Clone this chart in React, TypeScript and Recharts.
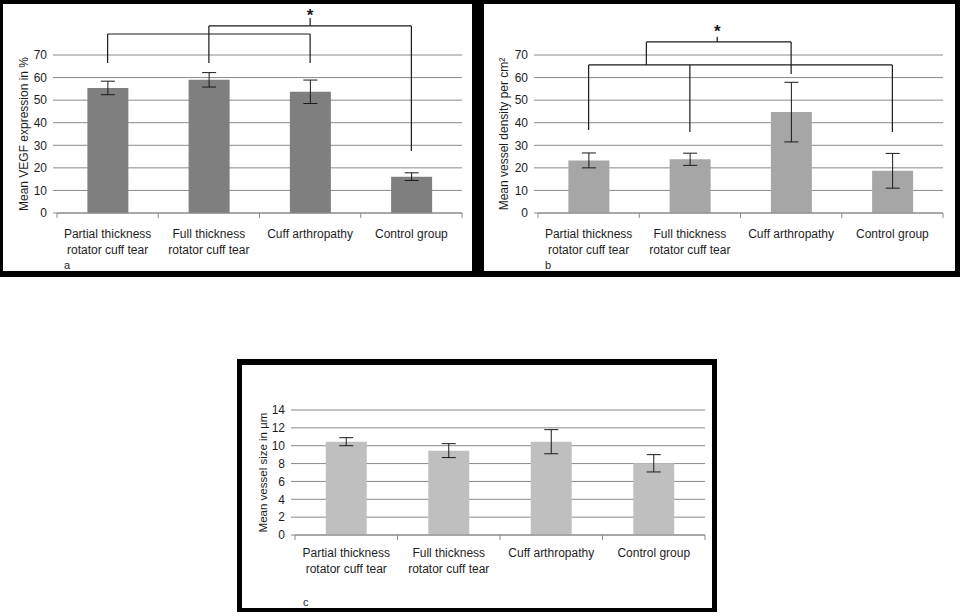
import {
  Bar,
  BarChart,
  CartesianGrid,
  ErrorBar,
  ReferenceDot,
  ReferenceLine,
  XAxis,
  YAxis,
} from "recharts";

const CATEGORIES = [
  "Partial thickness rotator cuff tear",
  "Full thickness rotator cuff tear",
  "Cuff arthropathy",
  "Control group",
];
const CATEGORY_LINES = [
  ["Partial thickness", "rotator cuff tear"],
  ["Full thickness", "rotator cuff tear"],
  ["Cuff arthropathy"],
  ["Control group"],
];

// a: VEGF expression (%)
const VEGF_MEAN = [55.4, 59.0, 53.7, 16.1];
const VEGF_ERR = [3.0, 3.2, 5.2, 1.7];
// b: vessel density (per cm²)
const DENSITY_MEAN = [23.3, 23.8, 44.7, 18.7];
const DENSITY_ERR = [3.3, 2.7, 13.2, 7.7];
// c: vessel size (µm)
const SIZE_MEAN = [10.45, 9.45, 10.45, 8.03];
const SIZE_ERR = [0.45, 0.78, 1.35, 0.97];

const PCT_TICKS = [0, 10, 20, 30, 40, 50, 60, 70];
const SIZE_TICKS = [0, 2, 4, 6, 8, 10, 12, 14];

// significance brackets, [x1, y1, x2, y2] in (category slot, value) units
const VEGF_BRACKETS: number[][] = [
  [0.5, 66.5, 0.5, 79.3],
  [0.5, 79.3, 2.5, 79.3],
  [2.5, 79.3, 2.5, 66.5],
  [1.5, 66.5, 1.5, 82.9],
  [1.5, 82.9, 3.5, 82.9],
  [3.5, 82.9, 3.5, 27.5],
  [2.5, 82.9, 2.5, 86.4],
];
const VEGF_STAR = [2.5, 89.2];

const DENSITY_BRACKETS: number[][] = [
  [0.5, 36.8, 0.5, 65.6],
  [0.5, 65.6, 3.5, 65.6],
  [1.5, 35.9, 1.5, 65.6],
  [3.5, 35.9, 3.5, 65.6],
  [1.07, 65.6, 1.07, 75.8],
  [1.07, 75.8, 2.5, 75.8],
  [2.5, 75.8, 2.5, 61.6],
  [1.77, 75.8, 1.77, 78.1],
];
const DENSITY_STAR = [1.77, 82];

const FONT = '"Liberation Sans", Arial, sans-serif';
const TEXT = "#1e1e1e";
const GRID = "#8a8a8a";
const INK = "#1a1a1a";

function rows(means: number[], errs: number[]) {
  return CATEGORIES.map((name, i) => ({ name, slot: i + 0.5, value: means[i], err: errs[i] }));
}

function CategoryTick(props: any) {
  const { x, y, payload, baseline } = props;
  const idx = CATEGORIES.indexOf(payload.value);
  const lines = CATEGORY_LINES[idx] ?? [payload.value];
  return (
    <text x={x} y={y + baseline} textAnchor="middle" fill={TEXT} fontSize={12} fontFamily={FONT}>
      {lines.map((l, i) => (
        <tspan key={i} x={x} dy={i === 0 ? 0 : 16.5}>
          {l}
        </tspan>
      ))}
    </text>
  );
}

type PanelProps = {
  left: number;
  top: number;
  width: number;
  height: number;
  means: number[];
  errs: number[];
  color: string;
  ticks: number[];
  yLabel: string;
  yLabelSize: number;
  margin: { top: number; right: number; bottom: number; left: number };
  labelOffset: number;
  baseline: number;
  brackets?: number[][];
  star?: number[];
  letter: string;
  letterPos: [number, number];
};

function Panel(p: PanelProps) {
  const data = rows(p.means, p.errs);
  const yMax = p.ticks[p.ticks.length - 1];
  const bounds = CATEGORIES.map((_, i) => i).concat(CATEGORIES.length);
  return (
    <div
      style={{
        position: "absolute",
        left: p.left,
        top: p.top,
        width: p.width,
        height: p.height,
        background: "#fff",
      }}
    >
      <BarChart width={p.width} height={p.height} data={data} margin={p.margin} barCategoryGap="30%">
        <CartesianGrid vertical={false} stroke={GRID} />
        <XAxis
          dataKey="name"
          axisLine={{ stroke: GRID }}
          tickLine={false}
          tickSize={0}
          tickMargin={0}
          height={40}
          interval={0}
          tick={(t: any) => <CategoryTick {...t} baseline={p.baseline} />}
        />
        <XAxis
          xAxisId="n"
          dataKey="slot"
          type="number"
          scale="linear"
          domain={[0, CATEGORIES.length]}
          hide
          allowDataOverflow
        />
        <YAxis
          domain={[0, yMax]}
          ticks={p.ticks}
          interval={0}
          allowDataOverflow
          axisLine={false}
          tickLine={{ stroke: GRID }}
          tickSize={4}
          tickMargin={6}
          width={50}
          tick={{ fill: TEXT, fontSize: 12, fontFamily: FONT }}
          label={{
            value: p.yLabel,
            angle: -90,
            position: "insideLeft",
            offset: p.labelOffset,
            style: { textAnchor: "middle", fill: TEXT, fontSize: p.yLabelSize, fontFamily: FONT },
          }}
        />
        <Bar dataKey="value" fill={p.color} isAnimationActive={false}>
          <ErrorBar dataKey="err" width={7} stroke={INK} strokeWidth={1} direction="y" />
        </Bar>
        {bounds.map((b) => (
          <ReferenceLine
            key={`tick-${b}`}
            xAxisId="n"
            segment={[
              { x: b, y: 0 },
              { x: b, y: 0 },
            ]}
            ifOverflow="visible"
            shape={(s: any) => <line x1={s.x1} y1={s.y1} x2={s.x1} y2={s.y1 + 5} stroke={GRID} />}
          />
        ))}
        {(p.brackets ?? []).map((s, i) => (
          <ReferenceLine
            key={`br-${i}`}
            xAxisId="n"
            segment={[
              { x: s[0], y: s[1] },
              { x: s[2], y: s[3] },
            ]}
            ifOverflow="visible"
            stroke={INK}
            strokeWidth={1.2}
          />
        ))}
        {p.star && (
          <ReferenceDot
            xAxisId="n"
            x={p.star[0]}
            y={p.star[1]}
            r={0}
            ifOverflow="visible"
            shape={(d: any) => (
              <text
                x={d.cx}
                y={d.cy + 9}
                textAnchor="middle"
                fontSize={17}
                fontWeight="bold"
                fontFamily={FONT}
                fill={INK}
              >
                *
              </text>
            )}
          />
        )}
      </BarChart>
      <span
        style={{
          position: "absolute",
          left: p.letterPos[0],
          top: p.letterPos[1],
          fontSize: 11,
          fontFamily: FONT,
          color: TEXT,
          lineHeight: "12px",
        }}
      >
        {p.letter}
      </span>
    </div>
  );
}

export default function App() {
  return (
    <div
      style={{
        position: "absolute",
        left: 0,
        top: 0,
        width: 960,
        height: 616,
        background: "#fff",
        overflow: "hidden",
      }}
    >
      <div style={{ position: "absolute", left: 0, top: 0, width: 960, height: 277, background: "#000" }} />
      <div style={{ position: "absolute", left: 237, top: 359, width: 480, height: 253, background: "#000" }} />
      <Panel
        left={3}
        top={4}
        width={469}
        height={267}
        means={VEGF_MEAN}
        errs={VEGF_ERR}
        color="#7f7f7f"
        ticks={PCT_TICKS}
        yLabel="Mean VEGF expression in %"
        yLabelSize={12}
        margin={{ top: 51, right: 10, bottom: 18, left: 4 }}
        labelOffset={17}
        baseline={24.5}
        brackets={VEGF_BRACKETS}
        star={VEGF_STAR}
        letter="a"
        letterPos={[61, 255]}
      />
      <Panel
        left={484}
        top={4}
        width={471}
        height={267}
        means={DENSITY_MEAN}
        errs={DENSITY_ERR}
        color="#a6a6a6"
        ticks={PCT_TICKS}
        yLabel="Mean vessel density per cm²"
        yLabelSize={12}
        margin={{ top: 51, right: 12, bottom: 18, left: 4 }}
        labelOffset={16}
        baseline={24.5}
        brackets={DENSITY_BRACKETS}
        star={DENSITY_STAR}
        letter="b"
        letterPos={[61, 255]}
      />
      <Panel
        left={242}
        top={365}
        width={470}
        height={243}
        means={SIZE_MEAN}
        errs={SIZE_ERR}
        color="#bfbfbf"
        ticks={SIZE_TICKS}
        yLabel="Mean vessel size in µm"
        yLabelSize={11.5}
        margin={{ top: 45, right: 7, bottom: 33, left: 3 }}
        labelOffset={18}
        baseline={21.5}
        letter="c"
        letterPos={[61, 231]}
      />
    </div>
  );
}
